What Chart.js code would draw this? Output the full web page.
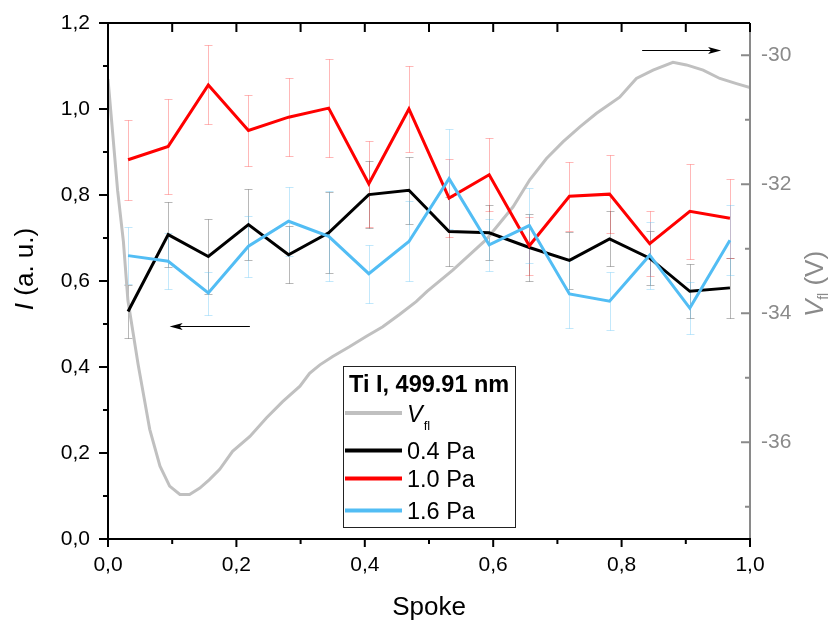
<!DOCTYPE html>
<html><head><meta charset="utf-8">
<script src="https://cdn.jsdelivr.net/npm/chart.js@4.4.1/dist/chart.umd.min.js"></script>
<style>html,body{margin:0;padding:0;background:#fff;overflow:hidden}canvas{display:block}</style>
</head><body>
<canvas id="c" width="829" height="621"></canvas>
<script>
// ---------- data ----------
const spoke = [0.03125,0.09375,0.15625,0.21875,0.28125,0.34375,0.40625,0.46875,0.53125,0.59375,0.65625,0.71875,0.78125,0.84375,0.90625,0.96875];
const I04    = [0.529,0.708,0.657,0.731,0.661,0.712,0.801,0.811,0.715,0.712,0.678,0.648,0.698,0.653,0.576,0.584];
const I04err = [0.062,0.076,0.087,0.082,0.066,0.094,0.078,0.078,0.080,0.064,0.077,0.067,0.064,0.063,0.063,0.070];
const I10    = [0.882,0.913,1.056,0.950,0.981,1.002,0.826,1.000,0.793,0.847,0.682,0.797,0.802,0.687,0.762,0.746];
const I10err = [0.093,0.110,0.092,0.082,0.090,0.114,0.100,0.100,0.090,0.085,0.068,0.080,0.090,0.075,0.110,0.092];
const I16    = [0.659,0.646,0.572,0.681,0.739,0.704,0.617,0.692,0.838,0.684,0.729,0.570,0.553,0.660,0.537,0.695];
const I16err = [0.066,0.065,0.050,0.071,0.080,0.105,0.067,0.093,0.116,0.060,0.087,0.080,0.068,0.078,0.060,0.082];
const vflX = [0.000,0.015,0.024,0.031,0.039,0.047,0.056,0.065,0.081,0.096,0.112,0.127,0.143,0.158,0.174,0.194,0.221,0.247,0.272,0.299,0.314,0.330,0.350,0.376,0.402,0.428,0.454,0.480,0.497,0.537,0.589,0.631,0.657,0.683,0.709,0.735,0.761,0.797,0.823,0.849,0.880,0.901,0.927,0.953,0.979,1.000];
const vflV = [-30.37,-32.10,-32.89,-33.80,-34.30,-34.80,-35.30,-35.80,-36.37,-36.68,-36.81,-36.81,-36.71,-36.58,-36.42,-36.14,-35.91,-35.62,-35.37,-35.13,-34.93,-34.80,-34.67,-34.52,-34.36,-34.21,-34.02,-33.82,-33.66,-33.33,-32.86,-32.35,-31.93,-31.60,-31.34,-31.11,-30.90,-30.65,-30.36,-30.23,-30.11,-30.15,-30.23,-30.36,-30.44,-30.50];
const xTicks = [0,0.1,0.2,0.3,0.4,0.5,0.6,0.7,0.8,0.9,1.0];
const yTicks = [0,0.1,0.2,0.3,0.4,0.5,0.6,0.7,0.8,0.9,1.0,1.1,1.2];
const y2Ticks = [-37,-36,-35,-34,-33,-32,-31,-30];
const seriesLabels = ['0.4 Pa','1.0 Pa','1.6 Pa'];
const legendTitle = 'Ti I, 499.91 nm';
const xTitle = 'Spoke';
// arrows: start x, end x, level on the left y axis (data units)
const arrowStartX = [0.221, 0.832];
const arrowEndX   = [0.096, 0.955];
const arrowY      = [0.495, 1.138];

// ---------- style ----------
const FONT = '"Liberation Sans", Arial, Helvetica, sans-serif';
const BLACK = '#000000', RED = '#ff0000', BLUE = '#52bdf4', GRAY = '#c0c0c0', AXGRAY = '#8a8a8a';
const errSets = [
  {v: I04, e: I04err, c: 'rgba(0,0,0,0.28)'},
  {v: I10, e: I10err, c: 'rgba(255,0,0,0.28)'},
  {v: I16, e: I16err, c: 'rgba(82,189,244,0.35)'}
];
const fmt1 = v => v.toFixed(1).replace('.', ',');
const isMajor10 = v => Math.round(v*10) % 2 === 0;
const noPad = s => { s.paddingTop = 0; s.paddingBottom = 0; s.paddingLeft = 0; s.paddingRight = 0; };

const decor = {
  id: 'decor',
  beforeDatasetsDraw(chart) {
    const {ctx, chartArea: a} = chart;
    const xs = chart.scales.x, ys = chart.scales.y;
    ctx.save();
    ctx.beginPath(); ctx.rect(a.left, a.top, a.right - a.left, a.bottom - a.top); ctx.clip();
    ctx.lineWidth = 1;
    errSets.forEach(s => {
      ctx.strokeStyle = s.c;
      spoke.forEach((xv, i) => {
        const px = Math.round(xs.getPixelForValue(xv)) + 0.5;
        const t = Math.round(ys.getPixelForValue(s.v[i] + s.e[i])) + 0.5;
        const b = Math.round(ys.getPixelForValue(s.v[i] - s.e[i])) + 0.5;
        ctx.beginPath();
        ctx.moveTo(px, t); ctx.lineTo(px, b);
        ctx.moveTo(px - 4, t); ctx.lineTo(px + 4, t);
        ctx.moveTo(px - 4, b); ctx.lineTo(px + 4, b);
        ctx.stroke();
      });
    });
    ctx.restore();
  },
  afterDatasetsDraw(chart) {
    const {ctx, chartArea: a} = chart;
    const xs = chart.scales.x, ys = chart.scales.y, y2 = chart.scales.y2;
    ctx.save();
    ctx.lineCap = 'butt';
    // frame
    ctx.lineWidth = 2;
    ctx.strokeStyle = BLACK;
    ctx.beginPath();
    ctx.moveTo(a.left, a.top); ctx.lineTo(a.right, a.top);
    ctx.moveTo(a.left, a.top - 1); ctx.lineTo(a.left, a.bottom + 1);
    ctx.moveTo(a.left - 1, a.bottom); ctx.lineTo(a.right + 1, a.bottom);
    ctx.stroke();
    ctx.strokeStyle = AXGRAY;
    ctx.beginPath(); ctx.moveTo(a.right, a.top + 1); ctx.lineTo(a.right, a.bottom - 1); ctx.stroke();
    // x ticks
    ctx.strokeStyle = BLACK;
    ctx.beginPath();
    xs.ticks.forEach(t => {
      const p = xs.getPixelForValue(t.value);
      const L = isMajor10(t.value) ? 8 : 5;
      ctx.moveTo(p, a.bottom); ctx.lineTo(p, a.bottom + L);
      ctx.moveTo(p, a.top); ctx.lineTo(p, a.top + 9);
    });
    // left y ticks
    ys.ticks.forEach(t => {
      const p = ys.getPixelForValue(t.value);
      const L = isMajor10(t.value) ? 9 : 5;
      ctx.moveTo(a.left, p); ctx.lineTo(a.left - L, p);
    });
    ctx.stroke();
    // right ticks (inward)
    ctx.strokeStyle = AXGRAY;
    ctx.beginPath();
    y2.ticks.forEach(t => {
      const p = y2.getPixelForValue(t.value);
      const L = (t.value % 2 === 0) ? 9 : 5;
      ctx.moveTo(a.right, p); ctx.lineTo(a.right - L, p);
    });
    ctx.stroke();
    // arrows
    ctx.strokeStyle = BLACK; ctx.fillStyle = BLACK; ctx.lineWidth = 1;
    arrowY.forEach((yv, i) => {
      const x1 = xs.getPixelForValue(arrowStartX[i]), x2 = xs.getPixelForValue(arrowEndX[i]);
      const py = Math.round(ys.getPixelForValue(yv)) + 0.5;
      const dir = Math.sign(x2 - x1);
      ctx.beginPath(); ctx.moveTo(x1, py); ctx.lineTo(x2 - dir * 8, py); ctx.stroke();
      ctx.beginPath();
      ctx.moveTo(x2, py); ctx.lineTo(x2 - dir * 13, py - 3.5); ctx.lineTo(x2 - dir * 10, py); ctx.lineTo(x2 - dir * 13, py + 3.5);
      ctx.closePath(); ctx.fill();
    });
    // legend box
    const bx = 343.5, by = 366.5, bw = 172, bh = 161;
    ctx.fillStyle = '#fff';
    ctx.fillRect(bx, by, bw, bh);
    ctx.strokeStyle = '#222'; ctx.lineWidth = 1;
    ctx.strokeRect(bx, by, bw, bh);
    ctx.fillStyle = BLACK;
    ctx.textBaseline = 'alphabetic'; ctx.textAlign = 'left';
    ctx.font = 'bold 23.5px ' + FONT;
    ctx.fillText(legendTitle, 349, 392);
    const rows = [
      {y: 413, c: GRAY, base: 422, vfl: true},
      {y: 450.5, c: BLACK, base: 459, t: seriesLabels[0]},
      {y: 478.5, c: RED, base: 487, t: seriesLabels[1]},
      {y: 510.5, c: BLUE, base: 518.5, t: seriesLabels[2]}
    ];
    rows.forEach(r => {
      ctx.strokeStyle = r.c; ctx.lineWidth = 4;
      ctx.beginPath(); ctx.moveTo(345, r.y); ctx.lineTo(402, r.y); ctx.stroke();
      ctx.fillStyle = BLACK;
      if (r.vfl) {
        ctx.font = 'italic 23.5px ' + FONT;
        ctx.fillText('V', 407, r.base);
        const w = ctx.measureText('V').width;
        ctx.font = '13px ' + FONT;
        ctx.fillText('fl', 407 + w + 1, r.base + 8);
      } else {
        ctx.font = '23.5px ' + FONT;
        ctx.fillText(r.t, 407, r.base);
      }
    });
    // axis titles
    ctx.fillStyle = BLACK;
    ctx.font = '26px ' + FONT;
    ctx.textAlign = 'center';
    ctx.fillText(xTitle, (a.left + a.right) / 2, 615);
    ctx.textAlign = 'left';
    // left title: I (a. u.)
    ctx.save();
    ctx.translate(32.5, 269);
    ctx.rotate(-Math.PI / 2);
    ctx.font = 'italic 26px ' + FONT;
    const wI = ctx.measureText('I').width;
    ctx.font = '26px ' + FONT;
    const wR = ctx.measureText(' (a. u.)').width;
    let sx = -(wI + wR) / 2;
    ctx.font = 'italic 26px ' + FONT; ctx.fillText('I', sx, 0);
    ctx.font = '26px ' + FONT; ctx.fillText(' (a. u.)', sx + wI, 0);
    ctx.restore();
    // right title: V_fl (V)
    ctx.save();
    ctx.fillStyle = AXGRAY;
    ctx.translate(823, 284);
    ctx.rotate(-Math.PI / 2);
    ctx.font = 'italic 26px ' + FONT;
    const wV = ctx.measureText('V').width;
    ctx.font = '14px ' + FONT;
    const wf = ctx.measureText('fl').width;
    ctx.font = '26px ' + FONT;
    const wP = ctx.measureText(' (V)').width;
    sx = -(wV + wf + wP) / 2;
    ctx.font = 'italic 26px ' + FONT; ctx.fillText('V', sx, 0);
    ctx.font = '14px ' + FONT; ctx.fillText('fl', sx + wV, 5);
    ctx.font = '26px ' + FONT; ctx.fillText(' (V)', sx + wV + wf, 0);
    ctx.restore();
    ctx.restore();
  }
};

const pts = (xs, ys) => xs.map((x, i) => ({x: x, y: ys[i]}));

new Chart(document.getElementById('c'), {
  type: 'line',
  data: {
    datasets: [
      {label: seriesLabels[2], data: pts(spoke, I16), borderColor: BLUE, borderWidth: 3, pointRadius: 0, yAxisID: 'y', order: 1, tension: 0},
      {label: seriesLabels[1], data: pts(spoke, I10), borderColor: RED, borderWidth: 3, pointRadius: 0, yAxisID: 'y', order: 2, tension: 0},
      {label: seriesLabels[0], data: pts(spoke, I04), borderColor: BLACK, borderWidth: 3, pointRadius: 0, yAxisID: 'y', order: 3, tension: 0},
      {label: 'Vfl', data: pts(vflX, vflV), borderColor: GRAY, borderWidth: 3, pointRadius: 0, yAxisID: 'y2', order: 4, tension: 0}
    ]
  },
  options: {
    responsive: false,
    devicePixelRatio: 1,
    animation: false,
    events: [],
    layout: {padding: {top: 23, left: 0, right: 0, bottom: 0}},
    plugins: {legend: {display: false}, tooltip: {enabled: false}},
    scales: {
      x: {
        type: 'linear', min: 0, max: 1,
        afterBuildTicks: s => { s.ticks = xTicks.map(v => ({value: v})); },
        afterFit: s => { s.height = 82; noPad(s); },
        grid: {display: false, drawTicks: false},
        border: {display: false},
        ticks: {autoSkip: false, maxRotation: 0, padding: 14, color: BLACK,
                font: {family: FONT, size: 21},
                callback: v => isMajor10(v) ? fmt1(v) : ''}
      },
      y: {
        type: 'linear', position: 'left', min: 0, max: 1.2,
        afterBuildTicks: s => { s.ticks = yTicks.map(v => ({value: v})); },
        afterFit: s => { s.width = 108; noPad(s); },
        grid: {display: false, drawTicks: false},
        border: {display: false},
        ticks: {autoSkip: false, padding: 18, color: BLACK,
                font: {family: FONT, size: 21},
                callback: v => isMajor10(v) ? fmt1(v) : ''}
      },
      y2: {
        type: 'linear', position: 'right', min: -37.5, max: -29.5,
        afterBuildTicks: s => { s.ticks = y2Ticks.map(v => ({value: v})); },
        afterFit: s => { s.width = 79; noPad(s); },
        grid: {display: false, drawTicks: false},
        border: {display: false},
        ticks: {autoSkip: false, padding: 11, color: AXGRAY,
                font: {family: FONT, size: 21},
                callback: v => (v % 2 === 0) ? String(v) : ''}
      }
    }
  },
  plugins: [decor]
});
</script>
</body></html>
